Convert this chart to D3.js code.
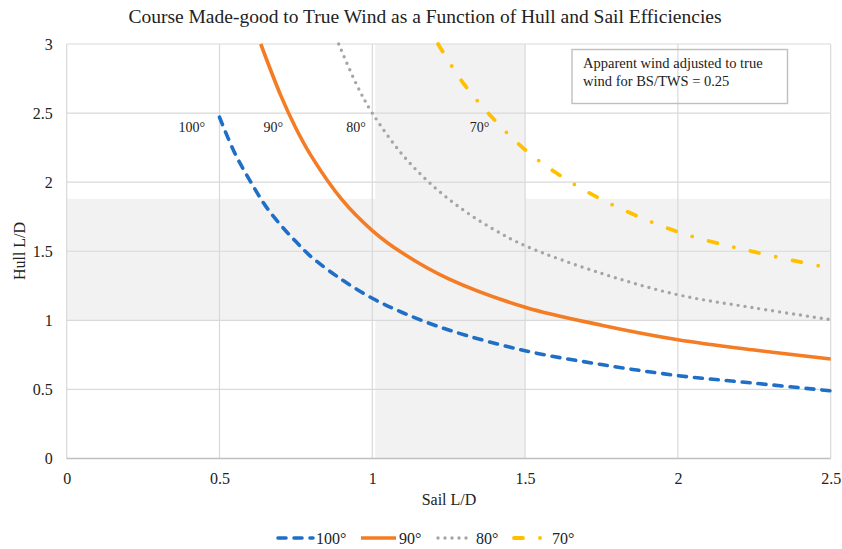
<!DOCTYPE html>
<html>
<head>
<meta charset="utf-8">
<script src="https://cdn.jsdelivr.net/npm/d3@7"></script>
<style>
  html, body { margin: 0; padding: 0; background: #fff; }
  svg { display: block; }
  text { font-family: "Liberation Serif", "Times New Roman", serif; fill: #222; }
</style>
</head>
<body>
<svg id="chart" width="842" height="549"></svg>
<script>
// ---- data ----
const xTicks = [0, 0.5, 1, 1.5, 2, 2.5];
const xTickLabels = ["0", "0.5", "1", "1.5", "2", "2.5"];
const yTicks = [0, 0.5, 1, 1.5, 2, 2.5, 3];
const yTickLabels = ["0", "0.5", "1", "1.5", "2", "2.5", "3"];

const seriesNames = ["100°", "90°", "80°", "70°"];

const sail100 = [0.5, 0.55, 0.6, 0.65, 0.7, 0.75, 0.8, 0.9, 1.0, 1.1, 1.25, 1.5, 1.75, 2.0, 2.25, 2.5];
const hull100 = [2.47, 2.21, 2.01, 1.83, 1.69, 1.57, 1.46, 1.295, 1.16, 1.055, 0.93, 0.78, 0.68, 0.60, 0.545, 0.49];

const sail90 = [0.635, 0.7, 0.75, 0.8, 0.9, 1.0, 1.1, 1.25, 1.5, 1.75, 2.0, 2.25, 2.5];
const hull90 = [3.0, 2.63, 2.39, 2.19, 1.875, 1.65, 1.485, 1.30, 1.095, 0.965, 0.86, 0.785, 0.72];

const sail80 = [0.89, 0.95, 1.0, 1.1, 1.2, 1.3, 1.4, 1.5, 1.75, 2.0, 2.25, 2.5];
const hull80 = [3.0, 2.7, 2.5, 2.195, 1.97, 1.795, 1.655, 1.54, 1.34, 1.185, 1.09, 1.005];

const sail70 = [1.215, 1.3, 1.4, 1.5, 1.6, 1.75, 2.0, 2.25, 2.5];
const hull70 = [3.0, 2.71, 2.45, 2.235, 2.07, 1.875, 1.64, 1.495, 1.377];

// shaded bands (data units)
const bandX = [1.01, 1.5];
const bandY = [1.0, 1.88];

const title = "Course Made-good to True Wind as a Function of Hull and Sail Efficiencies";
const noteLines = ["Apparent wind adjusted to true", "wind for BS/TWS = 0.25"];

// ---- drawing ----
const svg = d3.select("#chart");
const x = d3.scaleLinear().domain([0, 2.5]).range([66.7, 830.7]);
const y = d3.scaleLinear().domain([0, 3]).range([458.5, 44]);

const styles = [
  { color: "#1f6fc6", width: 3.6, dash: "8,8", cap: "round" },
  { color: "#f47c24", width: 3.6, dash: null, cap: "butt" },
  { color: "#a5a5a5", width: 3.4, dash: "0,7", cap: "round" },
  { color: "#ffc000", width: 3.8, dash: "9,17,0,17", cap: "round" }
];
const seriesData = [
  d3.zip(sail100, hull100),
  d3.zip(sail90, hull90),
  d3.zip(sail80, hull80),
  d3.zip(sail70, hull70)
];

// bands
svg.append("rect")
  .attr("x", x(0)).attr("width", x(2.5) - x(0))
  .attr("y", y(bandY[1])).attr("height", y(bandY[0]) - y(bandY[1]))
  .attr("fill", "#f2f2f2");
svg.append("rect")
  .attr("x", x(bandX[0])).attr("width", x(bandX[1]) - x(bandX[0]))
  .attr("y", y(3)).attr("height", y(0) - y(3))
  .attr("fill", "#f2f2f2");

// gridlines
svg.append("g").selectAll("line").data(yTicks.filter(d => d > 0)).join("line")
  .attr("x1", x(0)).attr("x2", x(2.5))
  .attr("y1", d => y(d)).attr("y2", d => y(d))
  .attr("stroke", "#d9d9d9").attr("stroke-width", 1.2);
svg.append("g").selectAll("line").data(xTicks).join("line")
  .attr("x1", d => x(d)).attr("x2", d => x(d))
  .attr("y1", y(0)).attr("y2", y(3))
  .attr("stroke", "#d9d9d9").attr("stroke-width", 1.2);
// bottom axis line
svg.append("line")
  .attr("x1", x(0)).attr("x2", x(2.5)).attr("y1", y(0)).attr("y2", y(0))
  .attr("stroke", "#bfbfbf").attr("stroke-width", 1.4);

// axes (labels via d3 axes)
const xAxis = d3.axisBottom(x).tickValues(xTicks)
  .tickFormat((d, i) => xTickLabels[i]).tickSize(0).tickPadding(14);
const gx = svg.append("g").attr("transform", `translate(0,${y(0)})`).call(xAxis);
gx.select(".domain").remove();
gx.selectAll("text").style("font-size", "16px").style("font-family", "'Liberation Serif', serif").style("fill", "#222");

const yAxis = d3.axisLeft(y).tickValues(yTicks)
  .tickFormat((d, i) => yTickLabels[i]).tickSize(0).tickPadding(14);
const gy = svg.append("g").attr("transform", `translate(${x(0)},0)`).call(yAxis);
gy.select(".domain").remove();
gy.selectAll("text").style("font-size", "16px").style("font-family", "'Liberation Serif', serif").style("fill", "#222");

// curves
const line = d3.line().x(d => x(d[0])).y(d => y(d[1])).curve(d3.curveCatmullRom.alpha(0.5));
seriesData.forEach((data, i) => {
  const s = styles[i];
  svg.append("path")
    .datum(data)
    .attr("d", line)
    .attr("fill", "none")
    .attr("stroke", s.color)
    .attr("stroke-width", s.width)
    .attr("stroke-linecap", s.cap)
    .attr("stroke-dasharray", s.dash);
});

// curve labels
const curveLabelX = [0.453, 0.708, 0.979, 1.383];
const curveLabelY = 2.36;
svg.append("g").selectAll("text").data(seriesNames).join("text")
  .attr("x", (d, i) => x(curveLabelX[i]))
  .attr("y", y(curveLabelY))
  .attr("text-anchor", "end")
  .style("font-size", "14px")
  .text(d => d);

// note box
svg.append("rect")
  .attr("x", 572).attr("y", 49.5).attr("width", 215.5).attr("height", 54)
  .attr("fill", "none").attr("stroke", "#bfbfbf").attr("stroke-width", 1.4);
svg.append("g").selectAll("text").data(noteLines).join("text")
  .attr("x", 583).attr("y", (d, i) => 68 + i * 17.6)
  .style("font-size", "14.5px")
  .text(d => d);

// title
svg.append("text")
  .attr("x", 425).attr("y", 23)
  .attr("text-anchor", "middle")
  .style("font-size", "19.5px")
  .text(title);

// axis titles
svg.append("text")
  .attr("x", 449).attr("y", 505)
  .attr("text-anchor", "middle")
  .style("font-size", "16px")
  .text("Sail L/D");
svg.append("text")
  .attr("transform", "translate(25,251) rotate(-90)")
  .attr("text-anchor", "middle")
  .style("font-size", "16px")
  .text("Hull L/D");

// legend
const legendX = [278, 361, 438, 514];
const lg = svg.append("g");
seriesNames.forEach((name, i) => {
  const s = styles[i];
  lg.append("line")
    .attr("x1", legendX[i]).attr("x2", legendX[i] + 35)
    .attr("y1", 538).attr("y2", 538)
    .attr("stroke", s.color).attr("stroke-width", s.width)
    .attr("stroke-linecap", s.cap)
    .attr("stroke-dasharray", s.dash);
  lg.append("text")
    .attr("x", legendX[i] + 38).attr("y", 543.5)
    .style("font-size", "16px")
    .text(name);
});
</script>
</body>
</html>
